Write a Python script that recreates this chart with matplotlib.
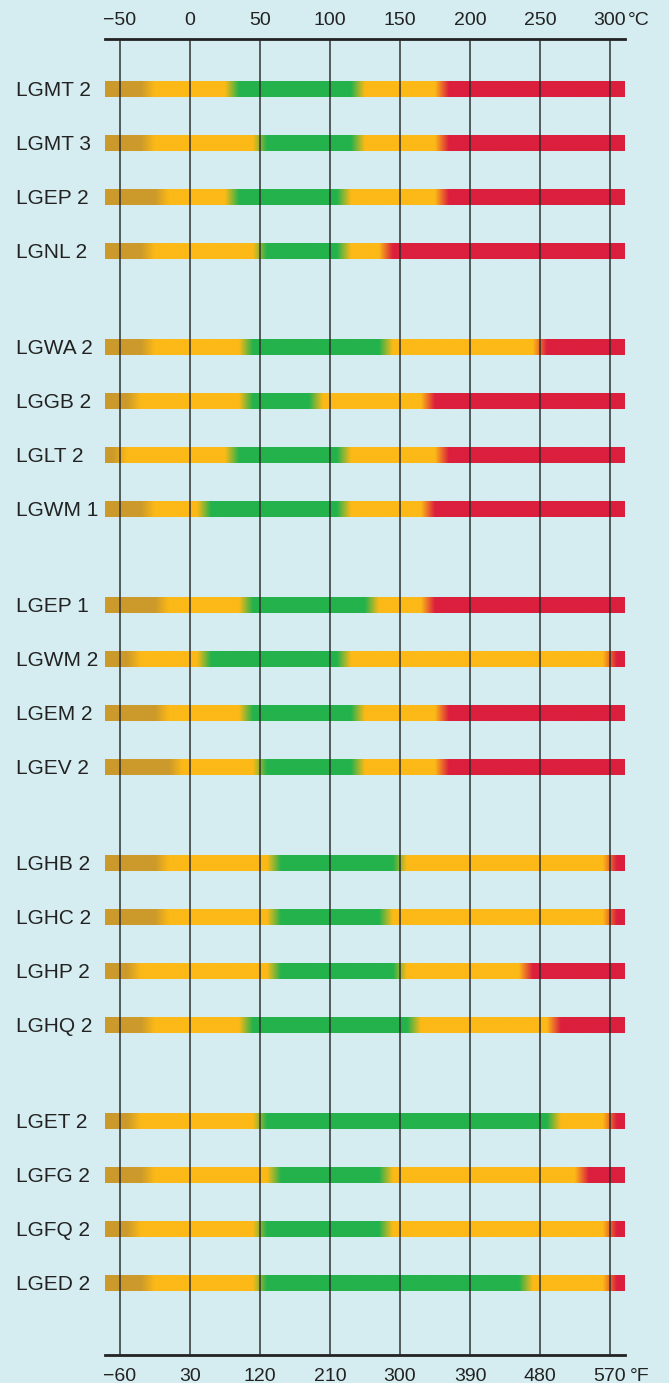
import numpy as np
import matplotlib.pyplot as plt
import matplotlib.transforms as mtransforms
from matplotlib.colors import to_rgb

# grease products and their temperature zones (°C)
products = ['LGMT 2', 'LGMT 3', 'LGEP 2', 'LGNL 2',
            'LGWA 2', 'LGGB 2', 'LGLT 2', 'LGWM 1',
            'LGEP 1', 'LGWM 2', 'LGEM 2', 'LGEV 2',
            'LGHB 2', 'LGHC 2', 'LGHP 2', 'LGHQ 2',
            'LGET 2', 'LGFG 2', 'LGFQ 2', 'LGED 2']
low_limit = [-30, -30, -20, -30, -30, -40, -50, -30, -20, -40,
             -20, -10, -20, -20, -40, -30, -40, -30, -40, -30]
green_start = [30, 50, 30, 50, 40, 40, 30, 10, 40, 10,
               40, 50, 60, 60, 60, 40, 50, 60, 50, 50]
green_end = [120, 120, 110, 110, 140, 90, 110, 110, 130, 110,
             120, 120, 150, 140, 150, 160, 260, 140, 140, 240]
red_start = [180, 180, 180, 140, 250, 170, 180, 170, 170, 300,
             180, 180, 300, 300, 240, 260, 300, 280, 300, 300]

celsius_ticks = [-50, 0, 50, 100, 150, 200, 250, 300]
celsius_labels = ['\u221250', '0', '50', '100', '150', '200', '250', '300']
fahrenheit_labels = ['\u221260', '30', '120', '210', '300', '390', '480', '570']

T_MIN, T_MAX = -60.7, 310.7

GOLD = '#cc9a2c'
YELLOW = '#fcb917'
GREEN = '#24b24c'
RED = '#db1f3d'
BG = '#d5edf1'
INK = '#222222'

plt.rcParams['font.family'] = ['Liberation Sans', 'DejaVu Sans']

W, H = 669, 1383
fig = plt.figure(figsize=(W / 100, H / 100), dpi=100, facecolor=BG)
ax = fig.add_axes([105 / W, (H - 1355) / H, 520 / W, (1355 - 39) / H])
ax.set_facecolor(BG)

# layout in pixel-like units, 0 = top rule
row_step, group_gap, first, bar_h = 54, 42, 50, 16
ypos = [first + i * row_step + (i // 4) * group_gap for i in range(len(products))]

xs = np.linspace(T_MIN, T_MAX, 1600)


def bar_colors(lo, g0, g1, r0, blend=5.0):
    rgb = np.tile(np.array(to_rgb(GOLD)), (len(xs), 1))
    for t, c_to in [(lo, YELLOW), (g0, GREEN), (g1, YELLOW), (r0, RED)]:
        w = np.clip((xs - (t - blend)) / (2 * blend), 0, 1)[:, None]
        rgb = rgb * (1 - w) + np.array(to_rgb(c_to)) * w
    return rgb


blend_tr = mtransforms.blended_transform_factory(ax.transAxes, ax.transData)
for i, name in enumerate(products):
    y = ypos[i]
    rgb = bar_colors(low_limit[i], green_start[i], green_end[i], red_start[i])
    ax.imshow(rgb[None, :, :], extent=[T_MIN, T_MAX, y + bar_h / 2, y - bar_h / 2],
              aspect='auto', interpolation='bilinear', zorder=1)
    ax.text(-89 / 520, y + 7.5, name, transform=blend_tr, ha='left',
            va='baseline', fontsize=15, color=INK)

ax.set_xlim(T_MIN, T_MAX)
ax.set_ylim(1316, 0)
ax.set_yticks([])

# top: celsius
ax.set_xticks(celsius_ticks, labels=celsius_labels)
ax.tick_params(axis='x', length=0, top=False, bottom=False, labeltop=True,
               labelbottom=False, pad=7, labelsize=14, labelcolor=INK)
ax.set_axisbelow(False)
ax.grid(axis='x', color='#2a2a2a', alpha=0.75, linewidth=1.4)

for side in ['left', 'right']:
    ax.spines[side].set_visible(False)
for side in ['top', 'bottom']:
    ax.spines[side].set_linewidth(2.0)
    ax.spines[side].set_color(INK)

# bottom: fahrenheit
sec = ax.secondary_xaxis('bottom')
sec.set_xticks(celsius_ticks, labels=fahrenheit_labels)
sec.tick_params(length=0, pad=9.5, labelsize=14, labelcolor=INK)
sec.spines['bottom'].set_visible(False)

ax.annotate('\u00b0C', xy=(1, 1), xycoords='axes fraction', xytext=(1.8, 10),
            textcoords='offset points', ha='left', va='baseline',
            fontsize=14, color=INK)
ax.annotate('\u00b0F', xy=(1, 0), xycoords='axes fraction', xytext=(3.5, -19),
            textcoords='offset points', ha='left', va='baseline',
            fontsize=14, color=INK)

fig.savefig('out.png', dpi=100, facecolor=BG)
